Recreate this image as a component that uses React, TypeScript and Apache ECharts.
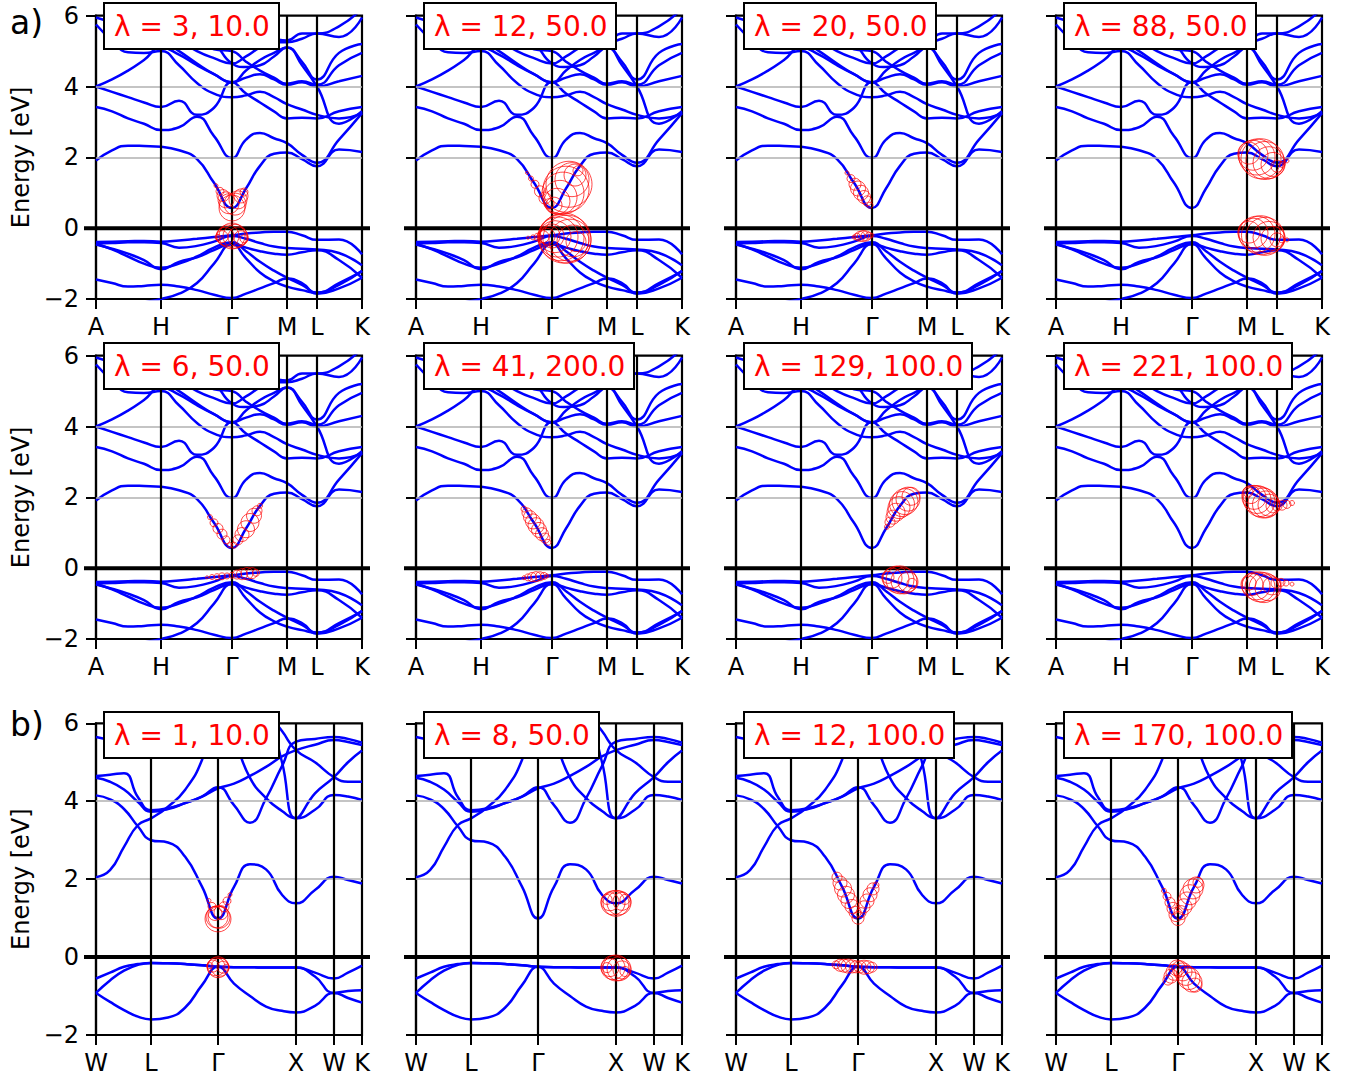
import React, { useEffect, useRef } from "react";
import * as echarts from "echarts";

const FONT = "DejaVu Sans";

// ---------- k-path (a): A-H-Γ-M-L-K ----------
const kPathA = [0, 16, 32, 48, 65, 83, 101, 118, 136, 150, 164, 178, 191, 206, 221, 243, 266];
const kTickPosA = [0, 65, 136, 191, 221, 266];
const kTickLabelsA = ["A", "H", "Γ", "M", "L", "K"];

// conduction bands (a)
const bandA_c1 = [1.91, 2.2, 2.33, 2.32, 2.3, 2.2, 1.95, 1.28, 0.57, 1.12, 1.76, 2.1, 2.14, 1.95, 1.75, 2.22, 2.15];
const bandA_c2 = [3.42, 3.3, 3.1, 2.95, 2.77, 2.85, 3.15, 2.6, 1.98, 2.5, 2.69, 2.54, 2.4, 2.07, 1.85, 2.5, 3.25];
const bandA_c3 = [4.0, 3.85, 3.7, 3.55, 3.42, 3.6, 3.2, 3.4, 4.12, 3.8, 3.55, 3.3, 3.1, 3.12, 3.1, 3.3, 3.42];
const bandA_c4 = [5.75, 5.3, 4.97, 4.95, 5.0, 4.6, 4.1, 3.8, 3.7, 3.75, 3.85, 3.7, 3.5, 3.35, 3.2, 3.1, 3.25];
const bandA_c5 = [4.0, 4.2, 4.45, 4.75, 5.1, 4.9, 4.6, 4.35, 4.12, 4.25, 4.35, 4.2, 4.05, 4.12, 4.0, 4.15, 4.3];
const bandA_c6 = [5.95, 5.8, 5.6, 5.45, 5.3, 5.0, 4.65, 4.35, 4.12, 4.45, 4.75, 4.95, 5.1, 4.6, 4.0, 2.95, 3.3];
const bandA_c7 = [6.3, 6.2, 6.0, 5.8, 5.6, 5.3, 5.0, 4.8, 4.65, 4.85, 5.1, 5.25, 5.25, 5.35, 5.5, 5.4, 5.95];
const bandA_c8 = [6.5, 6.4, 6.3, 6.15, 6.0, 5.7, 5.3, 5.05, 5.0, 4.7, 4.45, 4.25, 4.08, 4.15, 4.05, 4.6, 4.95];
const bandA_c9 = [6.6, 6.55, 6.45, 6.3, 6.2, 5.95, 5.6, 5.25, 4.65, 4.55, 4.6, 4.85, 5.1, 4.7, 4.2, 4.95, 5.2];
const bandA_c10 = [6.8, 6.7, 6.6, 6.5, 6.4, 6.2, 5.9, 5.5, 5.8, 5.6, 5.45, 5.35, 5.3, 5.5, 5.5, 5.7, 6.2];
// valence bands (a)
const bandA_v1 = [-0.39, -0.38, -0.37, -0.36, -0.38, -0.35, -0.3, -0.25, -0.2, -0.15, -0.12, -0.1, -0.1, -0.2, -0.33, -0.32, -0.74];
const bandA_v2 = [-0.43, -0.42, -0.4, -0.4, -0.42, -0.55, -0.5, -0.38, -0.22, -0.3, -0.42, -0.52, -0.56, -0.58, -0.6, -0.7, -1.05];
const bandA_v3 = [-0.44, -0.6, -0.8, -1.0, -1.12, -1.0, -0.8, -0.55, -0.4, -0.65, -0.95, -1.2, -1.4, -1.6, -1.82, -1.6, -1.2];
const bandA_v4 = [-0.46, -0.58, -0.72, -0.9, -1.16, -0.95, -0.82, -0.62, -0.45, -0.55, -0.65, -0.72, -0.75, -0.68, -0.62, -0.9, -1.4];
const bandA_v5 = [-1.45, -1.55, -1.65, -1.63, -1.6, -1.65, -1.75, -1.88, -1.97, -1.85, -1.7, -1.55, -1.42, -1.55, -1.85, -1.7, -1.4];
const bandA_v6 = [-2.4, -2.3, -2.2, -2.1, -2.0, -1.85, -1.55, -1.0, -0.45, -0.85, -1.25, -1.5, -1.65, -1.75, -1.82, -1.55, -1.22];

// ---------- k-path (b): W-L-Γ-X-W-K ----------
const kPathB = [0, 14, 28, 42, 55, 72, 89, 106, 122, 138, 154, 170, 186, 200, 219, 238, 252, 266];
const kTickPosB = [0, 55, 122, 200, 238, 266];
const kTickLabelsB = ["W", "L", "Γ", "X", "W", "K"];

const bandB_c1 = [4.15, 4.05, 3.8, 3.35, 3.0, 2.94, 2.58, 1.81, 0.99, 1.8, 2.38, 2.25, 1.6, 1.38, 1.72, 2.06, 1.98, 1.89];
const bandB_c2 = [2.05, 2.23, 2.83, 3.39, 3.56, 3.86, 4.29, 5.06, 6.4, 5.6, 4.6, 4.08, 3.75, 3.56, 3.78, 4.16, 4.12, 4.03];
const bandB_c3 = [4.65, 4.68, 4.72, 4.1, 3.77, 3.82, 3.95, 4.12, 4.33, 4.45, 4.65, 4.88, 5.15, 5.31, 5.45, 5.57, 5.52, 5.44];
const bandB_c4 = [4.6, 4.5, 4.3, 3.98, 3.73, 3.8, 3.95, 4.12, 4.36, 3.9, 3.45, 4.07, 4.9, 5.53, 5.6, 5.65, 5.6, 5.5];
const bandB_c5 = [5.65, 5.6, 5.7, 5.9, 6.1, 6.3, 6.5, 6.6, 6.7, 6.7, 6.6, 6.3, 5.8, 5.31, 5.0, 4.62, 4.5, 4.5];
const bandB_c6 = [6.7, 6.7, 6.7, 6.7, 6.7, 6.7, 6.7, 6.7, 6.7, 6.7, 6.7, 6.4, 5.0, 3.56, 4.2, 4.62, 5.0, 5.3];
const bandB_v1 = [-0.55, -0.4, -0.25, -0.18, -0.15, -0.16, -0.18, -0.21, -0.25, -0.26, -0.26, -0.27, -0.27, -0.27, -0.4, -0.55, -0.4, -0.22];
const bandB_v2 = [-0.92, -0.6, -0.35, -0.2, -0.15, -0.16, -0.18, -0.21, -0.25, -0.26, -0.26, -0.27, -0.27, -0.27, -0.5, -0.92, -0.87, -0.85];
const bandB_v3 = [-0.92, -1.15, -1.36, -1.53, -1.6, -1.55, -1.3, -0.72, -0.25, -0.68, -1.0, -1.27, -1.38, -1.42, -1.25, -0.92, -1.05, -1.17];

// ---------- panel titles ----------
const lambdasA = [3, 12, 20, 88, 6, 41, 129, 221];
const widthsA = [10, 50, 50, 50, 50, 200, 100, 100];
const lambdasB = [1, 8, 12, 170];
const widthsB = [10, 50, 100, 100];
// energies with a light reference line
const guideEnergies = [2, 4];

// ---------- projection circles: [k, energy, weight] ----------
const circlesA1 = [
  [120, 1.2, 4], [124, 1.04, 8], [127, 0.92, 12], [130, 0.8, 16], [133, 0.69, 20], [136, 0.57, 26],
  [139, 0.68, 22], [142, 0.8, 18], [145, 0.91, 14], [148, 1.02, 8],
  [122, -0.26, 6], [126, -0.24, 12], [129, -0.23, 18], [132, -0.22, 22], [136, -0.22, 26],
  [139, -0.23, 24], [142, -0.25, 20], [145, -0.27, 14], [148, -0.3, 8],
];
const circlesA2 = [
  [111, 1.56, 3], [115, 1.4, 5], [119, 1.24, 8], [124, 1.04, 11], [129, 0.85, 12], [133, 0.69, 10],
  [138, 0.65, 16], [141, 0.76, 26], [144, 0.87, 34], [147, 0.99, 42], [150, 1.1, 46], [153, 1.24, 46],
  [156, 1.37, 34], [159, 1.5, 22], [162, 1.62, 10],
  [112, -0.27, 3], [117, -0.26, 5], [122, -0.25, 8], [127, -0.24, 12], [131, -0.23, 16], [134, -0.22, 20],
  [136, -0.22, 24], [139, -0.24, 32], [142, -0.25, 40], [145, -0.27, 46], [148, -0.28, 50], [151, -0.31, 48],
  [154, -0.34, 42], [157, -0.36, 32], [160, -0.38, 20],
];
const circlesA3 = [
  [111, 1.56, 4], [115, 1.4, 8], [119, 1.24, 12], [122, 1.12, 15], [125, 1.0, 15], [128, 0.88, 13], [131, 0.77, 10], [134, 0.65, 6],
  [118, -0.25, 4], [121, -0.24, 7], [124, -0.23, 10], [127, -0.22, 11], [130, -0.22, 10], [133, -0.21, 7], [136, -0.2, 4],
];
const circlesA4 = [
  [193, 2.12, 22], [197, 2.06, 30], [201, 2.01, 36], [205, 1.96, 40], [209, 1.91, 38], [213, 1.85, 32],
  [217, 1.8, 24], [221, 1.75, 12], [226, 1.8, 6], [231, 1.9, 4],
  [193, -0.11, 22], [197, -0.14, 30], [201, -0.17, 36], [205, -0.2, 39], [209, -0.23, 38], [213, -0.26, 32],
  [217, -0.29, 24], [221, -0.33, 14], [226, -0.33, 6], [231, -0.33, 4],
];
const circlesA5 = [
  [114, 1.44, 5], [118, 1.28, 8], [122, 1.12, 10], [126, 0.96, 10], [130, 0.8, 8], [134, 0.65, 5],
  [138, 0.65, 6], [142, 0.8, 10], [146, 0.95, 14], [150, 1.1, 17], [154, 1.29, 18], [158, 1.48, 15], [161, 1.62, 10], [164, 1.76, 5],
  [111, -0.26, 3], [116, -0.25, 5], [121, -0.24, 6], [126, -0.23, 7], [131, -0.22, 6], [136, -0.2, 6],
  [141, -0.18, 9], [146, -0.17, 11], [151, -0.15, 12], [156, -0.14, 11], [160, -0.13, 7],
];
const circlesA6 = [
  [108, 1.67, 6], [111, 1.56, 10], [114, 1.44, 13], [117, 1.32, 15], [120, 1.2, 16], [123, 1.08, 15], [126, 0.96, 13], [129, 0.85, 10], [132, 0.73, 6],
  [108, -0.27, 4], [112, -0.26, 7], [116, -0.25, 9], [120, -0.24, 10], [124, -0.23, 9], [128, -0.22, 7], [131, -0.22, 4],
];
const circlesA7 = [
  [151, 1.17, 5], [154, 1.3, 10], [157, 1.44, 14], [160, 1.58, 18], [163, 1.71, 22], [166, 1.81, 25], [169, 1.88, 26], [172, 1.95, 24], [175, 2.03, 18],
  [152, -0.26, 12], [156, -0.28, 20], [160, -0.31, 26], [164, -0.33, 28], [168, -0.36, 26], [172, -0.39, 20], [176, -0.43, 10],
];
const circlesA8 = [
  [192, 2.15, 10], [195, 2.08, 18], [198, 2.0, 24], [201, 1.94, 28], [204, 1.88, 30], [207, 1.84, 30], [210, 1.8, 27],
  [213, 1.78, 22], [217, 1.76, 14], [221, 1.76, 10], [226, 1.78, 10], [231, 1.8, 8], [236, 1.84, 5],
  [193, -0.42, 14], [196, -0.46, 22], [200, -0.5, 28], [204, -0.53, 30], [208, -0.55, 30], [212, -0.55, 26],
  [216, -0.5, 18], [220, -0.42, 10], [225, -0.4, 8], [230, -0.42, 6], [236, -0.45, 4],
];
const circlesB1 = [
  [113, 1.45, 4], [116, 1.3, 8], [119, 1.12, 14], [121, 1.03, 22], [122, 0.98, 26], [123, 1.02, 22],
  [125, 1.14, 14], [128, 1.29, 10], [131, 1.44, 8], [134, 1.6, 4],
  [114, -0.22, 6], [117, -0.23, 12], [120, -0.25, 18], [122, -0.26, 21], [124, -0.26, 18], [127, -0.26, 12], [130, -0.26, 6],
];
const circlesB2 = [
  [191, 1.48, 10], [194, 1.42, 18], [197, 1.39, 24], [200, 1.38, 26], [203, 1.39, 24], [206, 1.43, 18], [209, 1.48, 10],
  [191, -0.27, 10], [194, -0.27, 18], [197, -0.27, 24], [200, -0.28, 26], [203, -0.3, 24], [206, -0.33, 18], [209, -0.37, 10],
];
const circlesB3 = [
  [101, 2.05, 10], [104, 1.9, 14], [107, 1.76, 17], [110, 1.6, 17], [113, 1.45, 16], [116, 1.3, 14], [119, 1.15, 12], [122, 1.0, 12],
  [125, 1.14, 10], [128, 1.29, 12], [131, 1.44, 14], [134, 1.6, 14], [137, 1.75, 12], [140, 1.85, 6],
  [100, -0.2, 8], [104, -0.21, 12], [108, -0.22, 13], [112, -0.23, 14], [116, -0.24, 13], [120, -0.25, 12],
  [124, -0.25, 12], [128, -0.26, 14], [132, -0.26, 13], [136, -0.26, 10],
];
const circlesB4 = [
  [108, 1.7, 5], [111, 1.56, 8], [114, 1.4, 10], [117, 1.25, 12], [120, 1.09, 14], [122, 0.99, 14],
  [125, 1.14, 14], [128, 1.29, 16], [131, 1.44, 18], [134, 1.6, 20], [137, 1.75, 20], [140, 1.85, 16], [142, 1.92, 10],
  [112, -0.59, 10], [115, -0.49, 14], [118, -0.39, 16], [121, -0.28, 16],
  [124, -0.3, 16], [127, -0.38, 18], [130, -0.47, 20], [133, -0.55, 22], [136, -0.64, 20], [139, -0.72, 14],
];

// ---------- layout (pixels) ----------
const COL_LEFT = [96, 416, 736, 1056];
const PANEL_W = 266;
const ROW_TOP = [15.7, 355.7, 723.3];
const ROW_H = [283.3, 283.3, 311.7];
const TITLE_TOP = [3, 343, 712];

const bandsA = [bandA_c1, bandA_c2, bandA_c3, bandA_c4, bandA_c5, bandA_c6, bandA_c7, bandA_c8, bandA_c9, bandA_c10,
  bandA_v1, bandA_v2, bandA_v3, bandA_v4, bandA_v5, bandA_v6];
const bandsB = [bandB_c1, bandB_c2, bandB_c3, bandB_c4, bandB_c5, bandB_c6, bandB_v1, bandB_v2, bandB_v3];
const circlesAll = [circlesA1, circlesA2, circlesA3, circlesA4, circlesA5, circlesA6, circlesA7, circlesA8,
  circlesB1, circlesB2, circlesB3, circlesB4];

const fmtE = (v: number) => (v < 0 ? "\u2212" + Math.abs(v) : String(v));

function buildPanels() {
  const panels: any[] = [];
  for (let r = 0; r < 3; r++) {
    for (let c = 0; c < 4; c++) {
      const isB = r === 2;
      const i = r * 4 + c;
      panels.push({
        r, c, i,
        kPath: isB ? kPathB : kPathA,
        tickPos: isB ? kTickPosB : kTickPosA,
        tickLabels: isB ? kTickLabelsB : kTickLabelsA,
        bands: isB ? bandsB : bandsA,
        circles: circlesAll[i],
        lambda: isB ? lambdasB[c] : lambdasA[i],
        width: isB ? widthsB[c] : widthsA[i],
      });
    }
  }
  return panels;
}

function buildOption(panels: any[]) {
  const grid: any[] = [];
  const xAxis: any[] = [];
  const yAxis: any[] = [];
  const series: any[] = [];
  const title: any[] = [];
  panels.forEach((p) => {
    const kMax = p.tickPos[p.tickPos.length - 1];
    grid.push({
      left: COL_LEFT[p.c], top: ROW_TOP[p.r], width: PANEL_W, height: ROW_H[p.r],
      show: true, borderColor: "#000", borderWidth: 2.2, backgroundColor: "rgba(0,0,0,0)",
    });
    xAxis.push({
      type: "value", gridIndex: p.i, min: 0, max: kMax,
      axisLine: { show: true, onZero: false, lineStyle: { color: "#000", width: 2.2 } },
      splitLine: { show: false },
      axisTick: { show: true, customValues: p.tickPos, length: 10, lineStyle: { color: "#000", width: 2 } },
      axisLabel: {
        show: true, customValues: p.tickPos, margin: 16,
        formatter: (v: number) => p.tickLabels[p.tickPos.indexOf(v)] ?? "",
        fontSize: 24, color: "#000", fontFamily: FONT,
      },
    });
    yAxis.push({
      type: "value", gridIndex: p.i, min: -2, max: 6, interval: 2,
      axisLine: { show: true, lineStyle: { color: "#000", width: 2.2 } },
      axisTick: { show: true, length: 10, lineStyle: { color: "#000", width: 2 } },
      axisLabel: { show: p.c === 0, margin: 17, fontSize: 24, color: "#000", fontFamily: FONT, formatter: fmtE },
      splitLine: { show: false },
      name: p.c === 0 ? "Energy [eV]" : "",
      nameLocation: "middle", nameGap: 63,
      nameTextStyle: { fontSize: 24, color: "#000", fontFamily: FONT },
    });
    // gray guide lines + high-symmetry vertical lines
    series.push({
      type: "line", xAxisIndex: p.i, yAxisIndex: p.i, data: [], z: 2, silent: true,
      markLine: {
        silent: true, symbol: ["none", "none"], label: { show: false },
        lineStyle: { color: "#000", width: 2.2, type: "solid" },
        data: [
          ...guideEnergies.map((e) => ({ yAxis: e, lineStyle: { color: "#b0b0b0", width: 1.6, type: "solid" } })),
          ...p.tickPos.slice(1, -1).map((v: number) => ({ xAxis: v })),
        ],
      },
    });
    p.bands.forEach((b: number[]) => {
      series.push({
        type: "line", xAxisIndex: p.i, yAxisIndex: p.i,
        data: p.kPath.map((k: number, j: number) => [k, b[j]]),
        showSymbol: false, symbol: "none", smooth: 0.5,
        lineStyle: { color: "#0000ff", width: 2.5 }, z: 3, silent: true,
      });
    });
    series.push({
      type: "scatter", xAxisIndex: p.i, yAxisIndex: p.i, data: p.circles,
      symbol: "circle", symbolSize: (v: number[]) => v[2],
      itemStyle: { color: "rgba(0,0,0,0)", borderColor: "#ff0000", borderWidth: 0.9 },
      z: 5, silent: true,
    });
    title.push({
      text: `λ = ${p.lambda}, ${p.width.toFixed(1)}`,
      left: COL_LEFT[p.c] + 8, top: TITLE_TOP[p.r],
      padding: [9, 9, 9, 10],
      backgroundColor: "#fff", borderColor: "#000", borderWidth: 2,
      textStyle: { color: "#ff0000", fontSize: 28, fontWeight: "normal", fontFamily: FONT },
      z: 10,
    });
  });
  return { animation: false, grid, xAxis, yAxis, series, title };
}

export default function App() {
  const ref = useRef<HTMLDivElement>(null);
  useEffect(() => {
    const chart = echarts.init(ref.current!, null, { renderer: "svg" });
    const panels = buildPanels();
    chart.setOption(buildOption(panels) as any);
    const elements: any[] = [
      { type: "text", x: 10, y: 22, z: 10, style: { text: "a)", fontSize: 33, fontFamily: FONT, fill: "#000", align: "left", verticalAlign: "middle" } },
      { type: "text", x: 10, y: 724, z: 10, style: { text: "b)", fontSize: 33, fontFamily: FONT, fill: "#000", align: "left", verticalAlign: "middle" } },
    ];
    panels.forEach((p) => {
      const kMax = p.tickPos[p.tickPos.length - 1];
      const a = chart.convertToPixel({ gridIndex: p.i } as any, [0, 0]) as number[];
      const b = chart.convertToPixel({ gridIndex: p.i } as any, [kMax, 0]) as number[];
      elements.push({
        type: "line", z: 4, silent: true,
        shape: { x1: a[0] - 12, y1: a[1], x2: b[0] + 8, y2: b[1] },
        style: { stroke: "#000", lineWidth: 4 },
      });
    });
    chart.setOption({ graphic: { elements } } as any);
    return () => chart.dispose();
  }, []);
  return <div ref={ref} style={{ position: "absolute", left: 0, top: 0, width: 1353, height: 1078 }} />;
}
